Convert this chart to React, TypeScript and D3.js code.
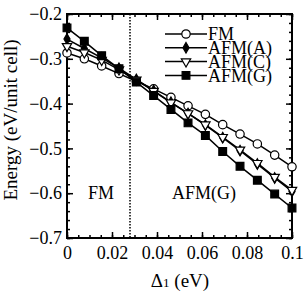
import React, { useEffect, useRef } from 'react'
import * as d3 from 'd3'

// exchange splitting Delta1 (eV), 14 calculated points
const delta = [0, 0.0077, 0.0154, 0.0231, 0.0308, 0.0385, 0.0462, 0.0538, 0.0615, 0.0692, 0.0769, 0.0846, 0.0923, 0.1]
const fm = [-0.287, -0.300, -0.316, -0.333, -0.350, -0.367, -0.386, -0.405, -0.424, -0.447, -0.468, -0.490, -0.515, -0.541]
const afmA = [-0.256, -0.277, -0.298, -0.321, -0.346, -0.371, -0.397, -0.422, -0.448, -0.476, -0.505, -0.535, -0.566, -0.596]
const afmC = [-0.272, -0.286, -0.303, -0.324, -0.347, -0.372, -0.398, -0.422, -0.447, -0.475, -0.503, -0.533, -0.564, -0.593]
const afmG = [-0.231, -0.261, -0.293, -0.322, -0.352, -0.382, -0.413, -0.443, -0.471, -0.507, -0.540, -0.571, -0.602, -0.633]
const labels = ['FM', 'AFM(A)', 'AFM(C)', 'AFM(G)']
const xTicks = [0, 0.02, 0.04, 0.06, 0.08, 0.1]
const yTicks = [-0.7, -0.6, -0.5, -0.4, -0.3, -0.2]
const boundary = 0.028

const W = 305, H = 294
const left = 67, right = 292, top = 14, bottom = 238
const font = '"Liberation Serif", "Times New Roman", serif'

const App = () => {
    const ref = useRef(null)
    useEffect(() => {
        const svg = d3.select(ref.current)
        svg.selectAll('*').remove()
        const x = d3.scaleLinear().domain([0, 0.1]).range([left, right])
        const y = d3.scaleLinear().domain([-0.7, -0.2]).range([bottom, top])
        const xMinor = x.ticks(20)
        const yMinor = y.ticks(25)
        const fmt = d3.format('~g')

        const styleAxis = (g, size) => {
            g.select('.domain').remove()
            g.selectAll('line').attr('stroke', '#000').attr('stroke-width', 1.5)
            g.selectAll('text').attr('font-family', font).attr('font-size', size).attr('fill', '#000')
        }

        // ticks point inward on all four sides
        const addAxis = (axis, tr, size, fmtFn, pad) => {
            const g = svg.append('g').attr('transform', tr)
                .call(axis.tickSize(-size).tickPadding(pad).tickFormat(fmtFn))
            styleAxis(g, 18)
        }
        addAxis(d3.axisBottom(x).tickValues(xMinor), `translate(0,${bottom})`, 3, () => '', 0)
        addAxis(d3.axisTop(x).tickValues(xMinor), `translate(0,${top})`, 3, () => '', 0)
        addAxis(d3.axisLeft(y).tickValues(yMinor), `translate(${left},0)`, 3, () => '', 0)
        addAxis(d3.axisRight(y).tickValues(yMinor), `translate(${right},0)`, 3, () => '', 0)
        addAxis(d3.axisBottom(x).tickValues(xTicks), `translate(0,${bottom})`, 6, fmt, 8)
        addAxis(d3.axisTop(x).tickValues(xTicks), `translate(0,${top})`, 6, () => '', 0)
        addAxis(d3.axisLeft(y).tickValues(yTicks), `translate(${left},0)`, 6, fmt, 5)
        addAxis(d3.axisRight(y).tickValues(yTicks), `translate(${right},0)`, 6, () => '', 0)

        svg.append('rect')
            .attr('x', left).attr('y', top)
            .attr('width', right - left).attr('height', bottom - top)
            .attr('fill', 'none').attr('stroke', '#000').attr('stroke-width', 2)

        // FM / AFM(G) boundary
        svg.append('line')
            .attr('x1', x(boundary)).attr('x2', x(boundary))
            .attr('y1', top).attr('y2', bottom)
            .attr('stroke', '#000').attr('stroke-width', 1.5)
            .attr('stroke-dasharray', '1.5,1.5')

        const series = [fm, afmA, afmC, afmG]
        const markers = [
            { type: d3.symbolCircle, size: 55, fill: '#fff', rot: 0 },
            { type: d3.symbolDiamond, size: 32, fill: '#000', rot: 0 },
            { type: d3.symbolTriangle, size: 38, fill: '#fff', rot: 180 },
            { type: d3.symbolSquare, size: 60, fill: '#000', rot: 0 },
        ]
        const line = d3.line().x(d => x(d[0])).y(d => y(d[1]))

        series.forEach((vals, k) => {
            const pts = vals.map((v, i) => [delta[i], v])
            svg.append('path').datum(pts)
                .attr('d', line)
                .attr('fill', 'none').attr('stroke', '#000').attr('stroke-width', 1.5)
            const m = markers[k]
            svg.append('g').selectAll('path').data(pts).join('path')
                .attr('d', d3.symbol(m.type, m.size))
                .attr('transform', d => `translate(${x(d[0])},${y(d[1])}) rotate(${m.rot})`)
                .attr('fill', m.fill).attr('stroke', '#000').attr('stroke-width', 1.2)
        })

        // legend, rows packed tightly like the original
        const lg = svg.append('g')
        labels.forEach((lab, k) => {
            const ly = 34 + k * 13.8
            lg.append('line').attr('x1', 165).attr('x2', 207).attr('y1', ly).attr('y2', ly)
                .attr('stroke', '#000').attr('stroke-width', 1.5)
            const m = markers[k]
            lg.append('path').attr('d', d3.symbol(m.type, m.size)())
                .attr('transform', `translate(186,${ly}) rotate(${m.rot})`)
                .attr('fill', m.fill).attr('stroke', '#000').attr('stroke-width', 1.2)
            lg.append('text').attr('x', 208).attr('y', ly).attr('dy', '0.34em')
                .attr('font-family', font).attr('font-size', 18).text(lab)
        })

        // phase labels
        svg.append('text').attr('x', 101).attr('y', 199).attr('text-anchor', 'middle')
            .attr('font-family', font).attr('font-size', 18).text('FM')
        svg.append('text').attr('x', 204).attr('y', 199).attr('text-anchor', 'middle')
            .attr('font-family', font).attr('font-size', 18).text('AFM(G)')

        // axis titles
        const xt = svg.append('text').attr('x', 180).attr('y', 287).attr('text-anchor', 'middle')
            .attr('font-family', font).attr('font-size', 19)
        xt.append('tspan').text('Δ')
        xt.append('tspan').attr('font-size', 13).text('1')
        xt.append('tspan').text(' (eV)')

        svg.append('text').attr('transform', 'translate(17,120) rotate(-90)')
            .attr('text-anchor', 'middle')
            .attr('font-family', font).attr('font-size', 19)
            .text('Energy (eV/unit cell)')
    }, [])

    return <svg ref={ref} width={W} height={H}
        style={{ position: 'absolute', left: 0, top: 0, background: '#fff' }} />
}

export default App
